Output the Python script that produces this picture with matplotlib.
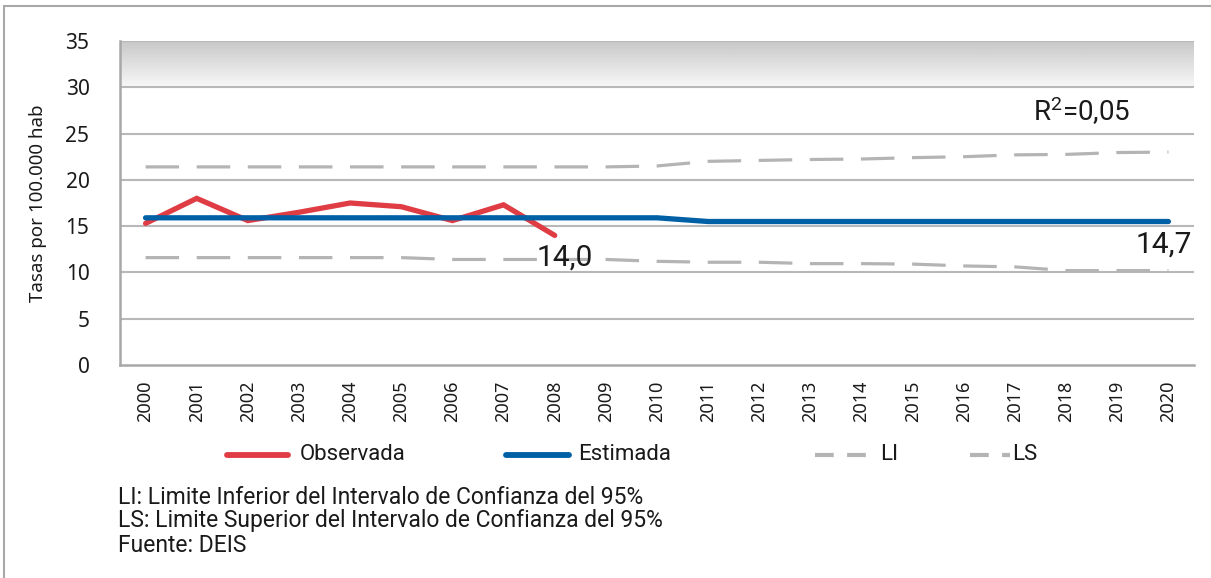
import numpy as np
import matplotlib
matplotlib.use("Agg")
import matplotlib.pyplot as plt
from matplotlib.lines import Line2D
from matplotlib.patches import Rectangle

# datos
anios = [str(a) for a in range(2000, 2021)]
observada = [15.3, 18.0, 15.6, 16.5, 17.5, 17.1, 15.6, 17.3, 14.0]
estimada = [15.9] * 11 + [15.5] * 10
li = [11.6, 11.6, 11.6, 11.6, 11.6, 11.6, 11.4, 11.4, 11.4, 11.4, 11.2,
      11.1, 11.1, 10.95, 10.95, 10.9, 10.7, 10.6, 10.2, 10.2, 10.2]
ls = [21.4, 21.4, 21.4, 21.4, 21.4, 21.4, 21.4, 21.4, 21.4, 21.4, 21.5,
      22.0, 22.1, 22.2, 22.25, 22.4, 22.5, 22.7, 22.75, 22.95, 23.0]
yticks = [0, 5, 10, 15, 20, 25, 30, 35]

ROJO = "#e03c44"
AZUL = "#0060a6"
GRIS = "#b4b4b4"
GRID = "#b8b8b8"
TXT = "#1a1a1a"

fuente = ["Noto Sans", "DejaVu Sans"]
texto_fam = ["Roboto", "DejaVu Sans"]

fig = plt.figure(figsize=(12.11, 5.78), dpi=100)
ax = fig.add_axes([120 / 1211, 1 - 365 / 578, (1194 - 120) / 1211, (365 - 41) / 578])

x = np.arange(len(anios))
ax.set_xlim(-0.5, len(anios) - 0.5)
ax.set_ylim(0, 35)

# banda superior con degradado
grad = np.linspace(0.97, 0.78, 64).reshape(-1, 1)
ax.imshow(grad, cmap="gray", vmin=0, vmax=1, aspect="auto",
          extent=[-0.5, len(anios) - 0.5, 30, 35], origin="lower", zorder=0)

for v in yticks[1:]:
    ax.axhline(v, color=GRID, lw=1.5, zorder=1)

ax.plot(x, li, color=GRIS, lw=2.3, dashes=[10.5, 5.5], zorder=2)
ax.plot(x, ls, color=GRIS, lw=2.3, dashes=[10.5, 5.5], zorder=2)
ax.plot(x[:len(observada)], observada, color=ROJO, lw=3.8,
        solid_capstyle="round", solid_joinstyle="miter", zorder=3)
ax.plot(x, estimada, color=AZUL, lw=3.8, solid_capstyle="round", zorder=4)

ax.text(8.2, 11.6, "14,0", fontsize=21.5, color=TXT, ha="center", va="center",
        family=texto_fam, zorder=5)
ax.text(19.9, 13.0, "14,7", fontsize=21.5, color=TXT, ha="center", va="center",
        family=texto_fam, zorder=5)
ax.text(18.3, 27.5, r"R$\mathregular{^2}$=0,05", fontsize=20, color=TXT,
        ha="center", va="center", family=texto_fam, zorder=5)

for s in ["top", "right"]:
    ax.spines[s].set_visible(False)
for s in ["left", "bottom"]:
    ax.spines[s].set_color("#a8a8a8")
    ax.spines[s].set_linewidth(1.8)

ax.set_yticks(yticks)
ax.set_yticklabels([str(v) for v in yticks], fontsize=15, family=fuente, color=TXT)
ax.set_xticks(x)
ax.set_xticklabels(anios, rotation=90, fontsize=13, family=fuente, color=TXT)
ax.tick_params(axis="both", length=0)
ax.tick_params(axis="y", pad=22)
ax.tick_params(axis="x", pad=11)
ax.set_ylabel("Tasas por 100.000 hab", fontsize=13.5, family=fuente, color=TXT,
              labelpad=13)

# leyenda manual
def item(x0, x1, xt, estilo, texto):
    yl = 1 - 455 / 578
    fig.add_artist(Line2D([x0 / 1211, x1 / 1211], [yl, yl], transform=fig.transFigure,
                          **estilo))
    fig.text(xt / 1211, yl, texto, fontsize=16, family=texto_fam,
             color=TXT, va="center", ha="left")

item(227, 288, 300, dict(color=ROJO, lw=4.2, solid_capstyle="round"), "Observada")
item(506, 569, 578, dict(color=AZUL, lw=4.2, solid_capstyle="round"), "Estimada")
item(815, 878, 880, dict(color=GRIS, lw=3, dashes=[4.5, 3.2]), "LI")
item(970, 1010, 1012, dict(color=GRIS, lw=3, dashes=[4.5, 3.2]), "LS")

notas = ["LI: Limite Inferior del Intervalo de Confianza del 95%",
         "LS: Limite Superior del Intervalo de Confianza del 95%",
         "Fuente: DEIS"]
for i, n in enumerate(notas):
    fig.text(118 / 1211, 1 - (497 + 24 * i) / 578, n, fontsize=16.5, family=texto_fam,
             color=TXT, va="center", ha="left")

# marco exterior
fig.add_artist(Rectangle((4 / 1211, -0.05), 1.2, 1 - 6 / 578 + 0.05,
                         transform=fig.transFigure, fill=False,
                         edgecolor="#a8a8a8", lw=1.5))

fig.savefig("out.png", dpi=100)
